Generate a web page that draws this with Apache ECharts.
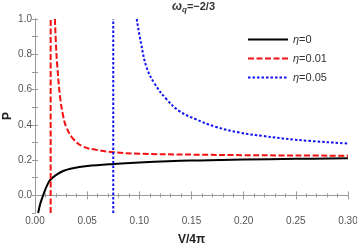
<!DOCTYPE html>
<html><head><meta charset="utf-8">
<script src="https://cdn.jsdelivr.net/npm/echarts@6/dist/echarts.min.js"></script>
<style>html,body{margin:0;padding:0;background:#fff}#c{width:357px;height:245px}</style>
</head><body><div id="c"></div>
<script>
// η=0 curve
const eta0V = [0.003, 0.0045, 0.006, 0.0093, 0.0125, 0.015, 0.02, 0.027, 0.035, 0.05, 0.075, 0.1, 0.15, 0.2, 0.25, 0.3];
const eta0P = [-0.1, -0.06, -0.03, 0.024, 0.068, 0.09, 0.115, 0.138, 0.152, 0.166, 0.178, 0.186, 0.197, 0.203, 0.207, 0.21];
// η=0.01 curve (asymptote segment + branch)
const eta1AsymV = [0.015, 0.015];
const eta1AsymP = [-0.1, 1.0];
const eta1V = [0.0191, 0.0203, 0.0214, 0.024, 0.027, 0.030, 0.0365, 0.046, 0.059, 0.075, 0.1, 0.15, 0.2, 0.25, 0.3];
const eta1P = [1.0, 0.83, 0.73, 0.56, 0.45, 0.387, 0.321, 0.277, 0.258, 0.245, 0.236, 0.231, 0.228, 0.226, 0.225];
// η=0.05 curve
const eta5AsymV = [0.075, 0.075];
const eta5AsymP = [-0.1, 1.0];
const eta5V = [0.0975, 0.1017, 0.107, 0.115, 0.126, 0.138, 0.154, 0.173, 0.196, 0.218, 0.25, 0.3];
const eta5P = [1.0, 0.86, 0.725, 0.63, 0.546, 0.479, 0.432, 0.389, 0.356, 0.337, 0.315, 0.294];
const legendNames = ['η=0', 'η=0.01', 'η=0.05'];

const zip = (a, b) => a.map((v, i) => [v, b[i]]);
const font = 'Liberation Sans, Arial, sans-serif';
const frame = '#9a9a9a';
const labCol = '#555';

const chart = echarts.init(document.getElementById('c'), null, {renderer: 'canvas'});
const lineBlack = {color: '#000', width: 2, type: 'solid'};
const lineRed = {color: '#f21010', width: 2, type: [6, 2.5]};
const lineBlue = {color: '#1010f2', width: 2, type: [2.5, 2]};

chart.setOption({
  animation: false,
  title: {
    text: '{w|ω}{s|q}{t|=−2/3}',
    left: 167, top: -5,
    textStyle: {rich: {
      w: {fontFamily: font, fontSize: 12, fontWeight: 'bold', fontStyle: 'italic', color: '#333'},
      s: {fontFamily: font, fontSize: 8, fontWeight: 'bold', fontStyle: 'italic', color: '#333', verticalAlign: 'bottom', padding: [6, 0, 0, 0]},
      t: {fontFamily: font, fontSize: 11, fontWeight: 'bold', color: '#333'}
    }}
  },
  legend: {
    orient: 'vertical', left: 242, top: 29, itemWidth: 40, itemHeight: 12, itemGap: 8,
    data: legendNames,
    itemStyle: {opacity: 0},
    formatter: n => '{i|η}' + n.slice(1),
    textStyle: {fontFamily: font, fontSize: 11, color: '#333', rich: {i: {fontStyle: 'italic', fontFamily: font, fontSize: 11, color: '#333'}}}
  },
  grid: {left: 35, right: 9, top: 19, bottom: 32, containLabel: false, outerBoundsMode: 'none'},
  xAxis: [{
    type: 'value', min: 0, max: 0.3, interval: 0.05,
    name: 'V/4π', nameLocation: 'middle', nameGap: 21, nameMoveOverlap: false,
    nameTextStyle: {fontFamily: font, fontSize: 12, fontWeight: 'bold', color: '#222'},
    axisLine: {show: true, lineStyle: {color: frame, width: 1}},
    axisTick: {show: true, inside: true, length: 4, lineStyle: {color: frame}},
    minorTick: {show: true, splitNumber: 5, length: 2, lineStyle: {color: frame}},
    splitLine: {show: false},
    axisLabel: {fontFamily: font, fontSize: 10, color: labCol, margin: 3, formatter: v => v.toFixed(2)}
  }, {
    type: 'value', min: 0, max: 0.3, interval: 0.05, position: 'top',
    axisLine: {show: true, lineStyle: {color: frame, width: 1}},
    axisTick: {show: true, inside: true, length: 4, lineStyle: {color: frame}},
    minorTick: {show: true, splitNumber: 5, length: 2, lineStyle: {color: frame}},
    splitLine: {show: false}, axisLabel: {show: false}
  }],
  yAxis: [{
    type: 'value', min: -0.1, max: 1.0, interval: 0.1,
    name: 'P', nameLocation: 'middle', nameGap: 21, nameMoveOverlap: false,
    nameTextStyle: {fontFamily: font, fontSize: 12, fontWeight: 'bold', color: '#222'},
    axisLine: {show: true, lineStyle: {color: frame, width: 1}},
    axisTick: {show: true, inside: true, length: 3, lineStyle: {color: frame}},
    splitLine: {show: false},
    axisLabel: {fontFamily: font, fontSize: 10, color: labCol, margin: 3, showMinLabel: false,
      formatter: v => { const k = Math.round(v * 10); return (k % 2 === 0 && k >= 0) ? (k / 10).toFixed(1) : ''; }}
  }, {
    type: 'value', min: -0.1, max: 1.0, interval: 0.1, position: 'right',
    axisLine: {show: true, lineStyle: {color: frame, width: 1}},
    axisTick: {show: true, inside: true, length: 3, lineStyle: {color: frame}},
    splitLine: {show: false}, axisLabel: {show: false}
  }],
  series: [
    {name: legendNames[0], type: 'line', data: zip(eta0V, eta0P), smooth: 0.4, showSymbol: false, symbol: 'none', lineStyle: lineBlack, itemStyle: {color: '#000'}, clip: true},
    {name: legendNames[1], type: 'line', data: zip(eta1V, eta1P), smooth: 0.4, showSymbol: false, symbol: 'none', lineStyle: lineRed, itemStyle: {color: '#f21010'}, clip: true},
    {name: legendNames[1], type: 'line', data: zip(eta1AsymV, eta1AsymP), showSymbol: false, symbol: 'none', lineStyle: lineRed, itemStyle: {color: '#f21010'}, clip: true},
    {name: legendNames[2], type: 'line', data: zip(eta5V, eta5P), smooth: 0.4, showSymbol: false, symbol: 'none', lineStyle: lineBlue, itemStyle: {color: '#1010f2'}, clip: true},
    {name: legendNames[2], type: 'line', data: zip(eta5AsymV, eta5AsymP), showSymbol: false, symbol: 'none', lineStyle: lineBlue, itemStyle: {color: '#1010f2'}, clip: true}
  ]
});
</script>
</body></html>
